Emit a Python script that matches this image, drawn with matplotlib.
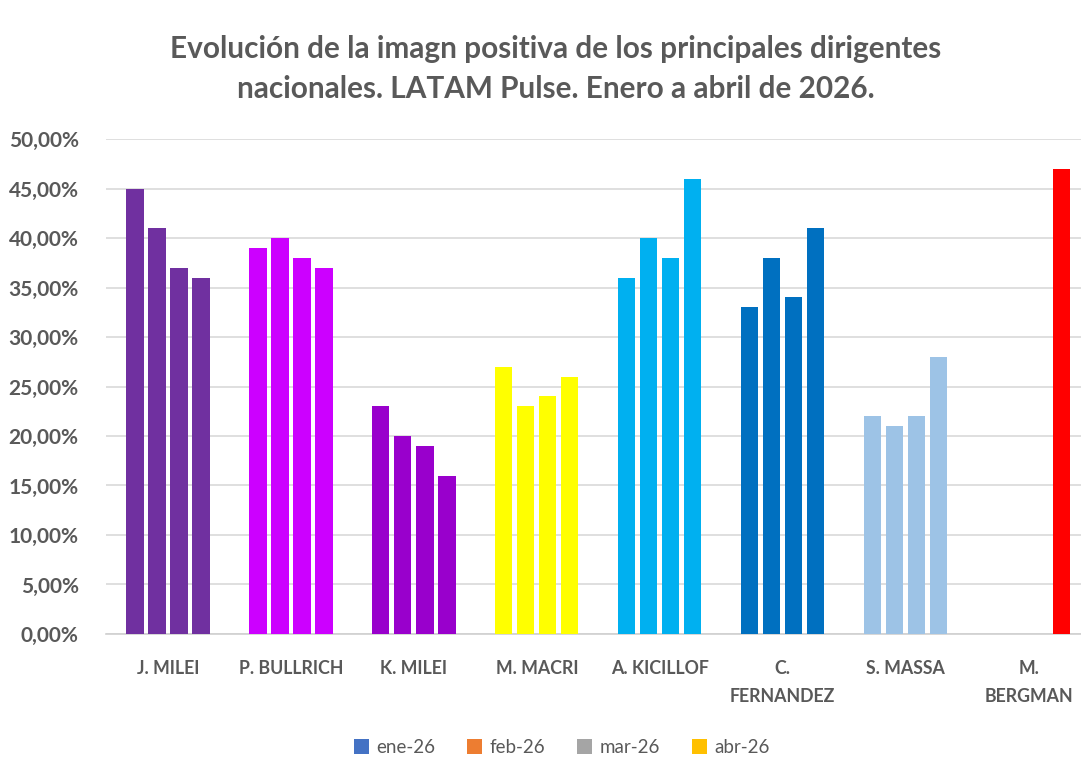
import matplotlib
matplotlib.use('Agg')
import matplotlib.pyplot as plt
import matplotlib.ticker as mtick
from matplotlib.patches import Patch
import numpy as np

plt.rcParams['font.family'] = ['Lato', 'DejaVu Sans']

# data (percent)
leaders = ['J. MILEI', 'P. BULLRICH', 'K. MILEI', 'M. MACRI', 'A. KICILLOF',
           'C.\nFERNANDEZ', 'S. MASSA', 'M.\nBERGMAN']
months = ['ene-26', 'feb-26', 'mar-26', 'abr-26']
ene = [45, 39, 23, 27, 36, 33, 22, np.nan]
feb = [41, 40, 20, 23, 40, 38, 21, np.nan]
mar = [37, 38, 19, 24, 38, 34, 22, np.nan]
abr = [36, 37, 16, 26, 46, 41, 28, 47]
series = [ene, feb, mar, abr]

barColors = ['#7030A0', '#CC00FF', '#9900CC', '#FFFF00', '#00B0F0',
             '#0070C0', '#9DC3E6', '#FF0000']
legendColors = ['#4472C4', '#ED7D31', '#A5A5A5', '#FFC000']
txtGray = '#595959'

fig = plt.figure(figsize=(10.81, 7.58), dpi=100)
ax = fig.add_axes([0.0985, 0.1636, 0.91, 0.653])

x = np.arange(len(leaders))
step = 0.179
for i, vals in enumerate(series):
    v = np.array(vals, dtype=float) / 100.0
    ax.bar(x + (i - 1.5) * step, v, width=0.14, color=barColors,
           edgecolor='none', zorder=3)

ax.set_xlim(-0.5, len(leaders) - 0.5)
ax.set_ylim(0, 0.5)
ax.set_yticks(np.arange(0, 0.51, 0.05))
ax.yaxis.set_major_formatter(
    mtick.FuncFormatter(lambda v, p: ('%.2f%%' % (v * 100)).replace('.', ',')))
ax.set_xticks(x)
ax.set_xticklabels(leaders, fontsize=12.8, fontweight='bold', color=txtGray,
                   linespacing=1.75)
ax.tick_params(axis='y', labelsize=15, labelcolor=txtGray, length=0, pad=20)
ax.tick_params(axis='x', length=0, pad=19)
for lab in ax.get_yticklabels():
    lab.set_fontweight('bold')
for lab in ax.get_xticklabels():
    lab.set_verticalalignment('top')
    lab.set_multialignment('center')

ax.grid(axis='y', color='#D9D9D9', linewidth=1.2, zorder=0)
for s in ['top', 'right', 'left']:
    ax.spines[s].set_visible(False)
ax.spines['bottom'].set_color('#D0D0D0')
ax.spines['bottom'].set_linewidth(1.2)

fig.text(0.514, 0.909,
         'Evolución de la imagn positiva de los principales dirigentes\n'
         'nacionales. LATAM Pulse. Enero a abril de 2026.',
         ha='center', va='center', fontsize=21.4, fontweight='bold',
         color=txtGray, linespacing=1.55)

handles = [Patch(facecolor=c, edgecolor='none') for c in legendColors]
fig.legend(handles, months, loc='center', bbox_to_anchor=(0.52, 0.014),
           ncol=4, frameon=False, fontsize=13.5, handlelength=0.8,
           handleheight=0.8, handletextpad=0.4, columnspacing=1.7,
           labelcolor=txtGray)

fig.savefig('out.png', dpi=100)
